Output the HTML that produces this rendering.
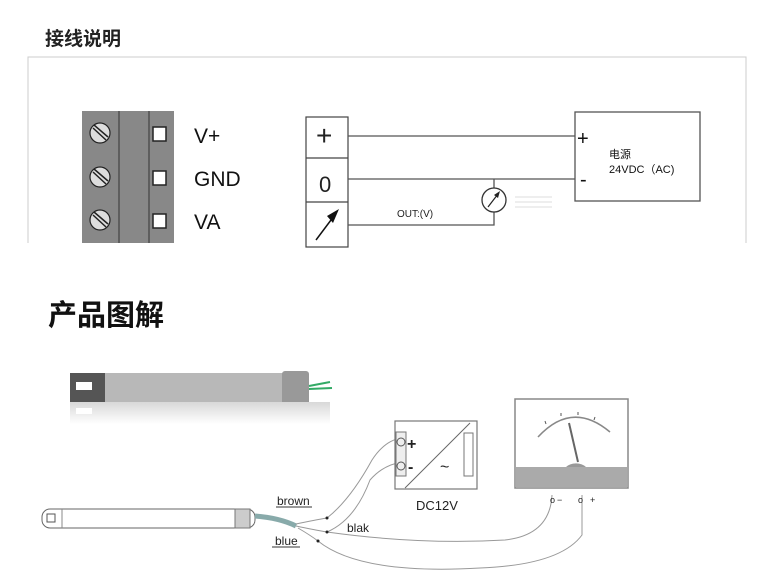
<!DOCTYPE html>
<html><head><meta charset="utf-8"><style>
html,body{margin:0;padding:0;background:#fff;width:769px;height:576px;overflow:hidden}
svg{display:block}
text{font-family:"Liberation Sans","Noto Sans CJK SC",sans-serif}
</style></head><body>
<svg width="769" height="576" viewBox="0 0 769 576" xmlns="http://www.w3.org/2000/svg">
<defs><linearGradient id="rf" x1="0" y1="0" x2="0" y2="1"><stop offset="0" stop-color="#d8d8d8"/><stop offset="1" stop-color="#fff"/></linearGradient></defs>
<text x="45" y="45" font-size="19" font-weight="bold" fill="#222">接线说明</text>
<path d="M28 243 V57 H746 V243" fill="none" stroke="#ccc" stroke-width="1"/>
<rect x="82" y="111" width="92" height="132" fill="#888"/>
<line x1="119" y1="111" x2="119" y2="243" stroke="#333" stroke-width="1"/>
<line x1="149" y1="111" x2="149" y2="243" stroke="#333" stroke-width="1"/>
<g stroke="#222" stroke-width="1.2" fill="#ddd">
<circle cx="100" cy="133" r="10"/><circle cx="100" cy="177" r="10"/><circle cx="100" cy="220" r="10"/>
</g>
<g stroke="#222" stroke-width="1.5">
<line x1="93" y1="128" x2="106" y2="140"/><line x1="94" y1="125" x2="108" y2="137"/>
<line x1="93" y1="172" x2="106" y2="184"/><line x1="94" y1="169" x2="108" y2="181"/>
<line x1="93" y1="215" x2="106" y2="227"/><line x1="94" y1="212" x2="108" y2="224"/>
</g>
<g fill="#fff" stroke="#222" stroke-width="1.5">
<rect x="153" y="127" width="13" height="14"/><rect x="153" y="171" width="13" height="14"/><rect x="153" y="214" width="13" height="14"/>
</g>
<g font-size="21" fill="#111">
<text x="194" y="143">V+</text><text x="194" y="186">GND</text><text x="194" y="229">VA</text>
</g>
<rect x="306" y="117" width="42" height="130" fill="#fff" stroke="#444" stroke-width="1.2"/>
<line x1="306" y1="158" x2="348" y2="158" stroke="#444" stroke-width="1.2"/>
<line x1="306" y1="202" x2="348" y2="202" stroke="#444" stroke-width="1.2"/>
<text x="316" y="145" font-size="28" fill="#222">+</text>
<text x="319" y="192" font-size="22" fill="#222">0</text>
<path d="M316 240 L334 216" stroke="#111" stroke-width="1.5"/>
<path d="M339 209 L327 216 L333 223 Z" fill="#111"/>
<g stroke="#555" stroke-width="1.3" fill="none">
<line x1="348" y1="136" x2="575" y2="136"/>
<line x1="348" y1="179" x2="575" y2="179"/>
<path d="M348 225 H494 V212 M494 188 V179"/>
</g>
<circle cx="494" cy="200" r="12" fill="#fff" stroke="#333" stroke-width="1.3"/>
<path d="M488 207 L498 194" stroke="#222" stroke-width="1.2"/><path d="M500 191 L494 195 L498 198Z" fill="#222"/>
<g stroke="#ddd" stroke-width="1"><line x1="515" y1="197" x2="552" y2="197"/><line x1="515" y1="202" x2="552" y2="202"/><line x1="515" y1="207" x2="552" y2="207"/></g>
<text x="397" y="217" font-size="10" fill="#222">OUT:(V)</text>
<rect x="575" y="112" width="125" height="89" fill="#fff" stroke="#555" stroke-width="1.3"/>
<text x="577" y="145" font-size="20" fill="#111">+</text>
<text x="580" y="186" font-size="20" fill="#111">-</text>
<text x="609" y="158" font-size="11" fill="#111">电源</text>
<text x="609" y="173" font-size="11" fill="#111">24VDC（AC)</text>
<text x="48" y="325" font-size="29" font-weight="bold" fill="#111">产品图解</text>
<rect x="70" y="373" width="218" height="31" fill="#b8b8b8"/>
<rect x="70" y="373" width="35" height="31" fill="#555"/>
<rect x="76" y="382" width="16" height="8" fill="#fff"/>
<rect x="282" y="371" width="27" height="34" fill="#999" rx="3"/>
<path d="M309 386 L330 382 M309 389 L332 388" stroke="#3a6" stroke-width="2"/>
<rect x="70" y="402" width="260" height="22" fill="url(#rf)"/>
<rect x="76" y="408" width="16" height="6" fill="#fff"/>
<rect x="42" y="509" width="213" height="19" rx="8" fill="#fff" stroke="#666"/>
<rect x="235" y="509" width="15" height="19" fill="#ccc" stroke="#777"/>
<rect x="47" y="514" width="8" height="8" fill="none" stroke="#555"/>
<line x1="62" y1="509" x2="62" y2="528" stroke="#888"/>
<path d="M255 516 Q280 518 296 526" stroke="#8aa" stroke-width="5" fill="none"/>
<g stroke="#999" stroke-width="1" fill="none">
<path d="M296 524 Q315 520 327 518 Q350 500 372 460 Q385 440 402 438"/>
<path d="M296 526 Q315 530 327 532 Q355 520 370 480 Q383 465 402 462"/>
<path d="M327 532 Q420 545 505 540 Q550 535 552 495"/>
<path d="M298 528 Q310 535 318 541 Q360 575 480 568 Q560 565 582 535 L582 495"/>
</g>
<g fill="#222"><circle cx="327" cy="518" r="1.5"/><circle cx="327" cy="532" r="1.5"/><circle cx="318" cy="541" r="1.5"/></g>
<text x="277" y="505" font-size="12" fill="#222">brown</text><line x1="276" y1="507" x2="312" y2="507" stroke="#333"/>
<text x="347" y="532" font-size="12" fill="#222">blak</text>
<text x="275" y="545" font-size="12" fill="#222">blue</text><line x1="272" y1="547" x2="300" y2="547" stroke="#333"/>
<rect x="395" y="421" width="82" height="68" fill="#fff" stroke="#777" stroke-width="1.2"/>
<line x1="405" y1="488" x2="470" y2="423" stroke="#666"/>
<rect x="396" y="432" width="10" height="44" fill="#eee" stroke="#777"/>
<circle cx="401" cy="442" r="4" fill="none" stroke="#555"/><circle cx="401" cy="466" r="4" fill="none" stroke="#555"/>
<text x="407" y="449" font-size="16" font-weight="bold" fill="#222">+</text>
<text x="408" y="472" font-size="16" font-weight="bold" fill="#222">-</text>
<text x="440" y="472" font-size="16" fill="#222">~</text>
<rect x="464" y="433" width="9" height="43" fill="#fff" stroke="#777"/>
<text x="416" y="510" font-size="13" fill="#222">DC12V</text>
<rect x="515" y="399" width="113" height="89" fill="#fff" stroke="#888" stroke-width="1.5"/>
<rect x="516" y="467" width="111" height="20" fill="#aaa"/>
<path d="M538 437 Q572 400 610 432" stroke="#888" stroke-width="1.5" fill="none"/>
<g stroke="#555" stroke-width="1"><line x1="546" y1="424" x2="545" y2="421"/><line x1="561" y1="416" x2="561" y2="413"/><line x1="578" y1="415" x2="578" y2="412"/><line x1="594" y1="420" x2="595" y2="417"/></g>
<line x1="569" y1="423" x2="578" y2="462" stroke="#666" stroke-width="2"/>
<path d="M566 467 A12 8 0 0 1 586 467 Z" fill="#999"/>
<g font-size="9" fill="#222">
<text x="550" y="503">o</text><text x="557" y="503">−</text><text x="578" y="503">o</text><text x="590" y="503">+</text>
</g>
</svg>
</body></html>
